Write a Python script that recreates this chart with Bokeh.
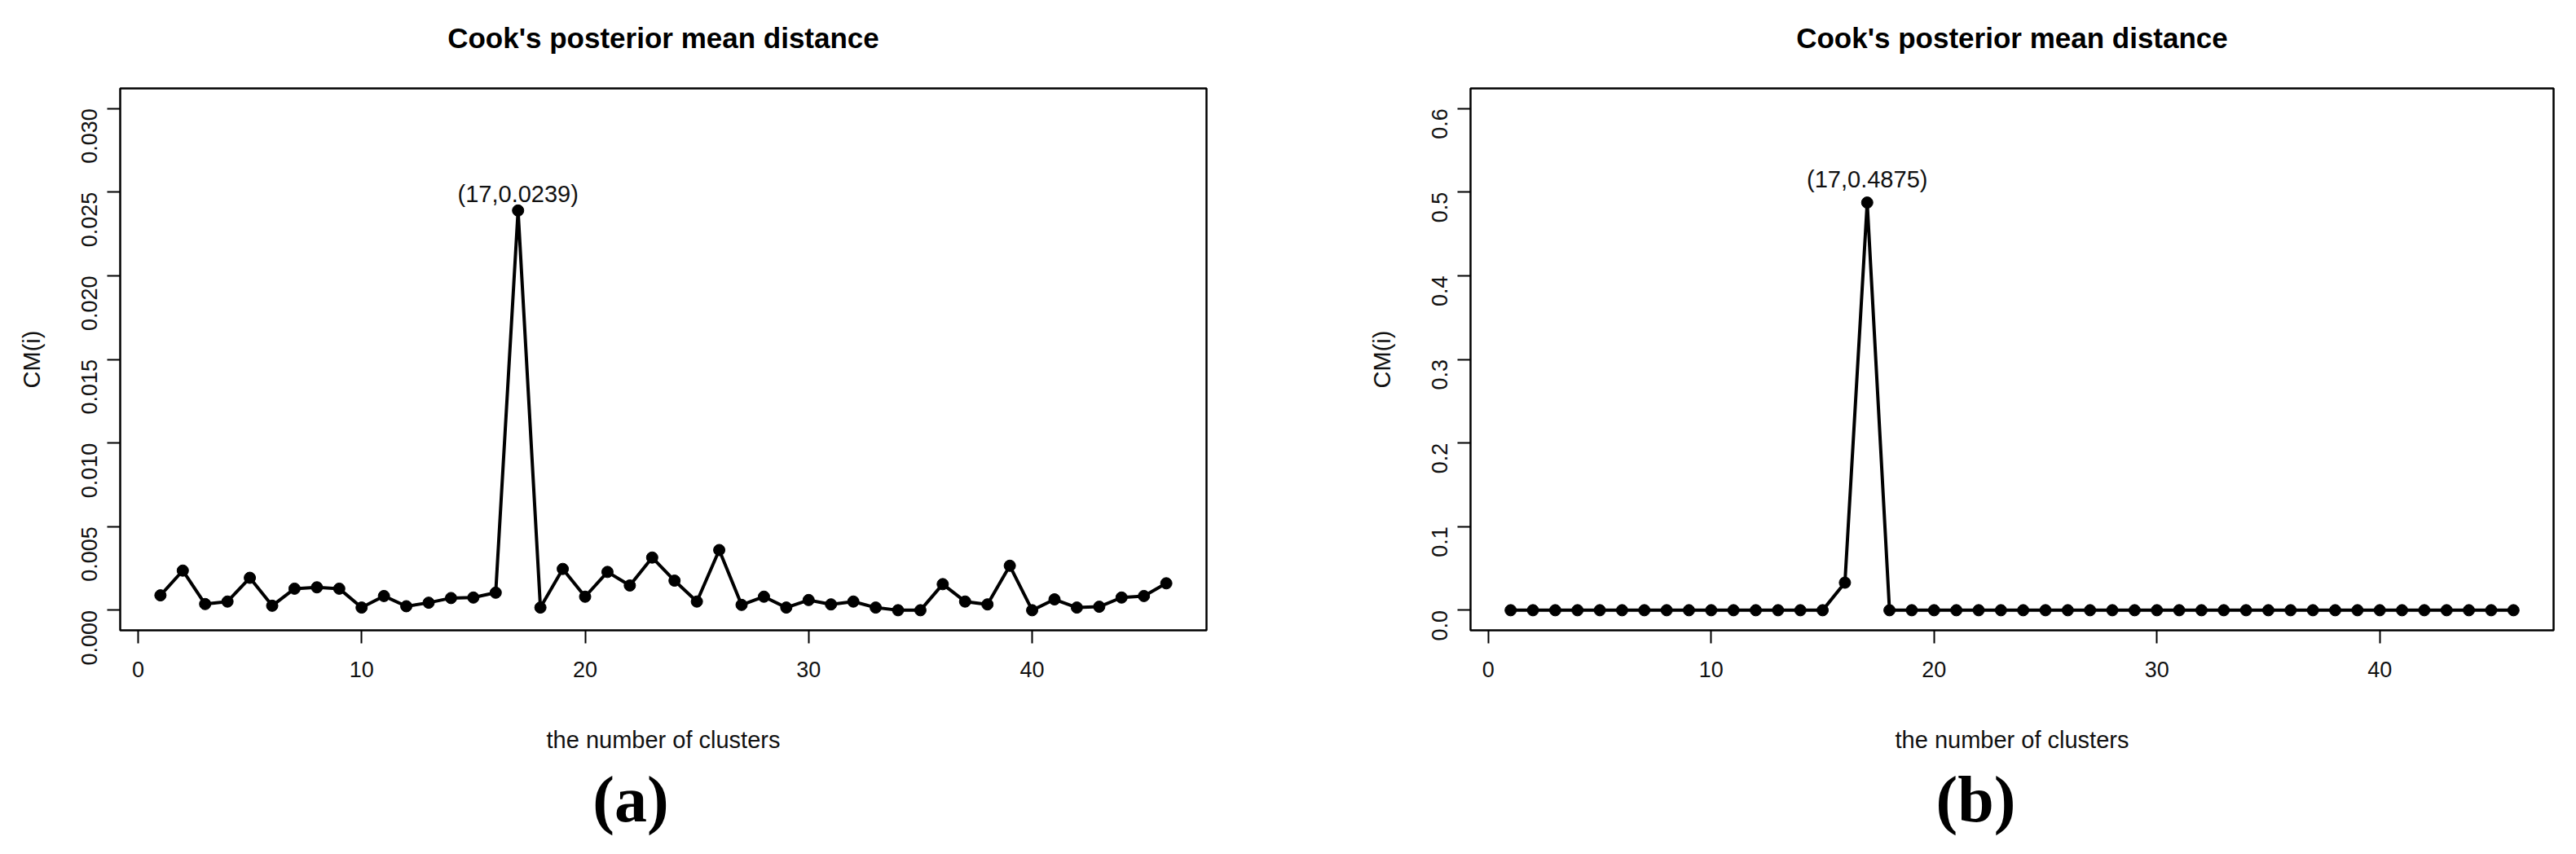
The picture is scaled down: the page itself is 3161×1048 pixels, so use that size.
from bokeh.plotting import figure
from bokeh.layouts import row, column
from bokeh.models import Range1d, FixedTicker, PrintfTickFormatter, Title
from bokeh.core.properties import value
from bokeh.embed import file_html
from bokeh.resources import INLINE
import math

# ---------------- data ----------------
clusters = list(range(1, 47))

cm_a = [0.00089, 0.00237, 0.00037, 0.00052, 0.00194, 0.00027, 0.00129, 0.00137,
        0.00129, 0.00016, 0.00085, 0.00024, 0.00045, 0.00073, 0.00076, 0.00105,
        0.0239, 0.00016, 0.00247, 0.00081, 0.00229, 0.00148, 0.00315, 0.00177,
        0.00052, 0.00360, 0.00032, 0.00081, 0.00016, 0.00061, 0.00035, 0.00052,
        0.00016, 0.00000, 0.00000, 0.00156, 0.00052, 0.00035, 0.00266, 0.00000,
        0.00065, 0.00016, 0.00021, 0.00076, 0.00085, 0.00161]

cm_b = [0.0, 0.0, 0.0, 0.0, 0.0, 0.0, 0.0, 0.0, 0.0, 0.0, 0.0, 0.0, 0.0, 0.0, 0.0,
        0.033, 0.4875, 0.0, 0.0, 0.0, 0.0, 0.0, 0.0, 0.0, 0.0, 0.0, 0.0, 0.0, 0.0,
        0.0, 0.0, 0.0, 0.0, 0.0, 0.0, 0.0, 0.0, 0.0, 0.0, 0.0, 0.0, 0.0, 0.0, 0.0,
        0.0, 0.0]

x_ticks = [0, 10, 20, 30, 40]
y_ticks_a = [0.000, 0.005, 0.010, 0.015, 0.020, 0.025, 0.030]
y_ticks_b = [0.0, 0.1, 0.2, 0.3, 0.4, 0.5, 0.6]

title_text = "Cook's posterior mean distance"
x_label = "the number of clusters"
y_label = "CM(i)"
captions = ["(a)", "(b)"]

SANS = "'Liberation Sans', Arial, sans-serif"
SERIF = "'Liberation Serif', 'DejaVu Serif', serif"

MAIN_H = 926
CAP_H = 106
FRAME_TOP = 108
FRAME_H = 666


def make_panel(yvals, yticks, fmt, width, border_left, frame_w, peak_off):
    ymax = yticks[-1]
    pad_y = 0.04 * ymax
    pad_x = 0.04 * (clusters[-1] - clusters[0])
    p = figure(width=width, height=MAIN_H, output_backend="svg", toolbar_location=None,
               x_range=Range1d(clusters[0] - pad_x, clusters[-1] + pad_x),
               y_range=Range1d(-pad_y, ymax + pad_y),
               min_border_left=border_left, min_border_right=width - border_left - frame_w,
               min_border_top=FRAME_TOP, min_border_bottom=MAIN_H - FRAME_TOP - FRAME_H)
    p.background_fill_color = "white"
    p.border_fill_color = "white"
    p.outline_line_color = "black"
    p.outline_line_width = 2.5
    p.outline_line_alpha = 1.0
    p.grid.visible = False

    # spacer (nearest the frame) then the bold main title above it
    p.add_layout(Title(text=" ", text_font_size="1px", standoff=40), "above")
    p.add_layout(Title(text=title_text, align="center", text_font=SANS,
                       text_font_size="35px", text_font_style="bold",
                       text_color="black", standoff=0), "above")

    for ax in (p.xaxis[0], p.yaxis[0]):
        ax.axis_line_color = None
        ax.major_tick_line_color = "black"
        ax.major_tick_line_width = 2
        ax.major_tick_out = 16
        ax.major_tick_in = 0
        ax.minor_tick_line_color = None
        ax.major_label_text_font = SANS
        ax.major_label_text_font_size = "27px"
        ax.major_label_text_color = "#111111"
        ax.axis_label_text_font = SANS
        ax.axis_label_text_font_size = "29px"
        ax.axis_label_text_font_style = "normal"
        ax.axis_label_text_color = "#111111"

    p.xaxis.ticker = FixedTicker(ticks=x_ticks)
    p.xaxis.formatter = PrintfTickFormatter(format="%d")
    p.xaxis.major_label_standoff = 22
    p.xaxis.axis_label = x_label
    p.xaxis.axis_label_standoff = 58

    p.yaxis.ticker = FixedTicker(ticks=yticks)
    p.yaxis.formatter = PrintfTickFormatter(format=fmt)
    p.yaxis.major_label_orientation = math.pi / 2
    p.yaxis.major_label_standoff = 22
    p.yaxis.axis_label = y_label
    p.yaxis.axis_label_standoff = 33

    p.line(clusters, yvals, line_color="black", line_width=4)
    p.scatter(clusters, yvals, size=14, fill_color="black", line_color="black")

    i = yvals.index(max(yvals))
    label = "(%d,%s)" % (clusters[i], repr(yvals[i]))
    p.text(x=[clusters[i]], y=[yvals[i]], text=[label], text_align="center",
           text_baseline="middle", y_offset=-peak_off, text_font=value(SANS),
           text_font_size="29px", text_color="#111111")
    return p


def make_caption(text, width, center_x):
    c = figure(width=width, height=CAP_H, output_backend="svg", toolbar_location=None,
               x_range=Range1d(0, width), y_range=Range1d(0, CAP_H),
               x_axis_location=None, y_axis_location=None, min_border=0)
    c.outline_line_color = None
    c.grid.visible = False
    c.background_fill_color = "white"
    c.border_fill_color = "white"
    c.text(x=[center_x], y=[52], text=[text], text_align="center",
           text_baseline="middle", text_font=value(SERIF), text_font_size="80px",
           text_font_style="bold", text_color="black")
    return c


W_A, W_B = 1572, 1573
BL_A, BL_B = 147, 232
FW_A, FW_B = 1333, 1329

pa = make_panel(cm_a, y_ticks_a, "%.3f", W_A, BL_A, FW_A, 20)
pb = make_panel(cm_b, y_ticks_b, "%.1f", W_B, BL_B, FW_B, 29)
ca = make_caption(captions[0], W_A, BL_A + FW_A / 2 - 40)
cb = make_caption(captions[1], W_B, BL_B + FW_B / 2 - 44.5)

layout = column(row(pa, pb), row(ca, cb))
open("out.html", "w").write(file_html(layout, INLINE))
